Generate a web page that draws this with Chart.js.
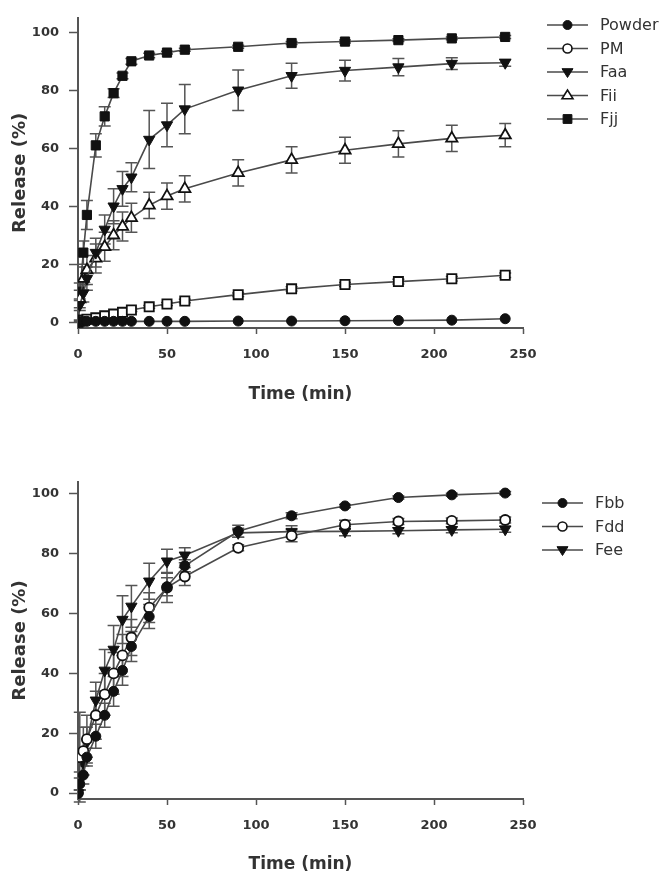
<!DOCTYPE html>
<html>
<head>
<meta charset="utf-8">
<script src="https://cdn.jsdelivr.net/npm/chart.js@4.4.1/dist/chart.umd.min.js"></script>
<style>
  body { margin: 0; background: #fff; }
  canvas { display: block; }
</style>
</head>
<body>
<canvas id="topChart" width="672" height="444"></canvas>
<canvas id="bottomChart" width="672" height="444"></canvas>
<script>
// sampling times (min)
var times = [0, 1, 3, 5, 10, 15, 20, 25, 30, 40, 50, 60, 90, 120, 150, 180, 210, 240];
var xTicks = [0, 50, 100, 150, 200, 250];
var yTicks = [0, 20, 40, 60, 80, 100];

// top panel, release (%)
var powder = [0, 0.2, 0.3, 0.3, 0.3, 0.3, 0.3, 0.3, 0.3, 0.3, 0.3, 0.3, 0.4, 0.4, 0.5, 0.6, 0.7, 1.2];
var pm     = [0, 0.5, 0.8, 1, 1.5, 2.2, 2.8, 3.4, 4.2, 5.3, 6.3, 7.3, 9.5, 11.5, 13, 14, 15, 16.2];
var faa    = [0, 6, 10, 15, 24, 32, 40, 46, 50, 63, 68, 73.5, 80, 85, 86.8, 88, 89.2, 89.5];
var fii    = [0, 8, 15, 18, 22, 26, 30, 33, 36, 40.3, 43.5, 46, 51.5, 56, 59.3, 61.5, 63.4, 64.5];
var fjj    = [0, 10.5, 24, 37, 61, 71, 79, 85, 90, 92, 93, 94, 95, 96.3, 96.8, 97.3, 97.9, 98.4];
// top panel, SD
var pmErr  = [0, 0.3, 0.3, 0.3, 0.4, 0.4, 0.4, 0.5, 0.5, 0.5, 0.5, 0.6, 0.6, 0.7, 0.7, 0.8, 0.8, 0.8];
var faaErr = [0, 2, 3, 4, 5, 5, 6, 6, 5, 10, 7.5, 8.5, 7, 4.3, 3.6, 3, 2, 1.2];
var fiiErr = [0, 3, 4, 5, 5, 5, 5, 5, 5, 4.5, 4.5, 4.5, 4.5, 4.5, 4.5, 4.5, 4.5, 4];
var fjjErr = [0, 3, 4, 5, 4, 3.3, 1.5, 1, 1, 0.8, 0.5, 0.5, 0.5, 0.5, 0.5, 0.5, 0.5, 0.5];

// bottom panel, release (%)
var fbb = [0, 3, 6, 12, 19, 26, 34, 41, 49, 59, 69, 76, 87.5, 92.7, 96, 98.8, 99.7, 100.3];
var fdd = [0, 12, 14, 18, 26, 33, 40, 46, 52, 62, 68.7, 72.4, 82, 86, 89.7, 90.8, 91, 91.3];
var fee = [0, 4, 10, 17, 31, 41, 48, 58, 62.4, 70.8, 77.5, 79.5, 87, 87.4, 87.5, 87.7, 88, 88.2];
// bottom panel, SD
var fbbErr = [0, 2, 3, 3, 4, 4, 5, 5, 5, 4, 3, 2, 2, 1, 0.5, 0.5, 0.5, 0.5];
var fddErr = [0, 15, 8, 8, 8, 7, 7, 7, 6, 5, 5, 3, 1, 2, 1.5, 1, 1, 1];
var feeErr = [0, 3, 4, 5, 6, 7, 8, 8, 7, 6, 4, 2.5, 1.5, 2, 1.5, 1, 1, 1];

Chart.defaults.font.family = "'DejaVu Sans', Arial, sans-serif";

var LINE = '#4a4a4a';
var INK = '#111';

function pts(vals) {
  return times.map(function (t, i) { return { x: t, y: vals[i] }; });
}

// marker: 'circle' | 'rect' | 'triUp' | 'triDown'
function series(label, vals, errs, marker, open, legendMarker) {
  var style = marker === 'rect' ? 'rect' : (marker === 'circle' ? 'circle' : 'triangle');
  var r = marker === 'circle' ? 5 : 6.5;
  return {
    label: label,
    data: pts(vals),
    errors: errs,
    marker: marker,
    legendMarker: legendMarker || marker,
    open: open,
    borderColor: LINE,
    borderWidth: 1.6,
    tension: 0,
    pointStyle: style,
    pointRotation: marker === 'triDown' ? 180 : 0,
    pointRadius: r,
    pointBackgroundColor: open ? '#fff' : INK,
    pointBorderColor: INK,
    pointBorderWidth: open ? 1.8 : 1
  };
}

function drawMarker(ctx, m, x, y, r, open) {
  ctx.beginPath();
  if (m === 'circle') {
    ctx.arc(x, y, r, 0, Math.PI * 2);
  } else if (m === 'rect') {
    ctx.rect(x - r * 0.8, y - r * 0.8, r * 1.6, r * 1.6);
  } else if (m === 'triDown') {
    ctx.moveTo(x - r, y - r * 0.6); ctx.lineTo(x + r, y - r * 0.6); ctx.lineTo(x, y + r);
    ctx.closePath();
  } else {
    ctx.moveTo(x - r, y + r * 0.6); ctx.lineTo(x + r, y + r * 0.6); ctx.lineTo(x, y - r);
    ctx.closePath();
  }
  ctx.fillStyle = open ? '#fff' : INK;
  ctx.fill();
  ctx.lineWidth = open ? 1.6 : 1;
  ctx.strokeStyle = INK;
  ctx.stroke();
}

var errorBars = {
  id: 'errorBars',
  beforeDatasetsDraw: function (chart) {
    var ctx = chart.ctx, ys = chart.scales.y;
    ctx.save();
    ctx.strokeStyle = '#555';
    ctx.lineWidth = 1.5;
    chart.data.datasets.forEach(function (ds, i) {
      var meta = chart.getDatasetMeta(i);
      if (!ds.errors) return;
      meta.data.forEach(function (p, j) {
        var e = ds.errors[j];
        if (!e) return;
        var v = ds.data[j].y;
        var y1 = ys.getPixelForValue(v + e), y2 = ys.getPixelForValue(v - e);
        ctx.beginPath();
        ctx.moveTo(p.x, y1); ctx.lineTo(p.x, y2);
        ctx.moveTo(p.x - 6, y1); ctx.lineTo(p.x + 6, y1);
        ctx.moveTo(p.x - 6, y2); ctx.lineTo(p.x + 6, y2);
        ctx.stroke();
      });
    });
    ctx.restore();
  }
};

var sideLegend = {
  id: 'sideLegend',
  afterDraw: function (chart) {
    var o = chart.options.plugins.sideLegend;
    var ctx = chart.ctx;
    ctx.save();
    chart.data.datasets.forEach(function (ds, i) {
      var y = o.y0 + i * o.step;
      ctx.strokeStyle = LINE;
      ctx.lineWidth = 1.6;
      ctx.beginPath();
      ctx.moveTo(o.x0, y); ctx.lineTo(o.x0 + 41, y);
      ctx.stroke();
      drawMarker(ctx, ds.legendMarker, o.x0 + 20.5, y, ds.legendMarker === 'circle' ? 4.5 : 5.5, ds.open);
      ctx.fillStyle = '#333';
      ctx.font = "16px 'DejaVu Sans', Arial, sans-serif";
      ctx.textBaseline = 'middle';
      ctx.textAlign = 'left';
      ctx.fillText(ds.label, o.x0 + 53, y + 1);
    });
    ctx.restore();
  }
};

function makeChart(id, datasets, areaTop, areaBottom, yMax, xTitlePad, legendX, legendY) {
  var H = 444;
  return new Chart(document.getElementById(id), {
    type: 'line',
    data: { datasets: datasets },
    plugins: [errorBars, sideLegend],
    options: {
      responsive: false,
      animation: false,
      events: [],
      layout: { padding: { top: areaTop, right: 149, left: 0, bottom: 0 } },
      plugins: {
        legend: { display: false },
        tooltip: { enabled: false },
        sideLegend: { x0: legendX, y0: legendY, step: 23.5 }
      },
      scales: {
        x: {
          type: 'linear',
          min: 0,
          max: 250,
          afterFit: function (s) { s.height = H - areaBottom; },
          afterBuildTicks: function (s) { s.ticks = xTicks.map(function (v) { return { value: v }; }); },
          border: { color: '#555', width: 2 },
          grid: { drawOnChartArea: false, tickLength: 6, tickColor: '#555', tickWidth: 1.5 },
          ticks: { color: '#333', padding: 13, maxRotation: 0, font: { size: 13, weight: 'bold' } },
          title: {
            display: true, text: 'Time (min)', color: '#333',
            font: { size: 17, weight: 'bold' }, padding: { top: 0, bottom: xTitlePad }
          }
        },
        y: {
          min: -2,
          max: yMax,
          afterFit: function (s) { s.width = 78; },
          afterBuildTicks: function (s) { s.ticks = yTicks.map(function (v) { return { value: v }; }); },
          border: { color: '#555', width: 2 },
          grid: { drawOnChartArea: false, tickLength: 9, tickColor: '#555', tickWidth: 1.5 },
          ticks: { color: '#333', padding: 10, font: { size: 13, weight: 'bold' } },
          title: {
            display: true, text: 'Release (%)', color: '#333',
            font: { size: 18, weight: 'bold' }, padding: { top: 10, bottom: 0 }
          }
        }
      }
    }
  });
}

makeChart('topChart', [
  series('Powder', powder, null, 'circle', false),
  series('PM', pm, pmErr, 'rect', true, 'circle'),
  series('Faa', faa, faaErr, 'triDown', false),
  series('Fii', fii, fiiErr, 'triUp', true),
  series('Fjj', fjj, fjjErr, 'rect', false)
], 7, 328, 105, 39, 547, 25);

makeChart('bottomChart', [
  series('Fbb', fbb, fbbErr, 'circle', false),
  series('Fdd', fdd, fddErr, 'circle', true),
  series('Fee', fee, feeErr, 'triDown', false)
], 38, 355, 104, 13, 542, 59);
</script>
</body>
</html>
